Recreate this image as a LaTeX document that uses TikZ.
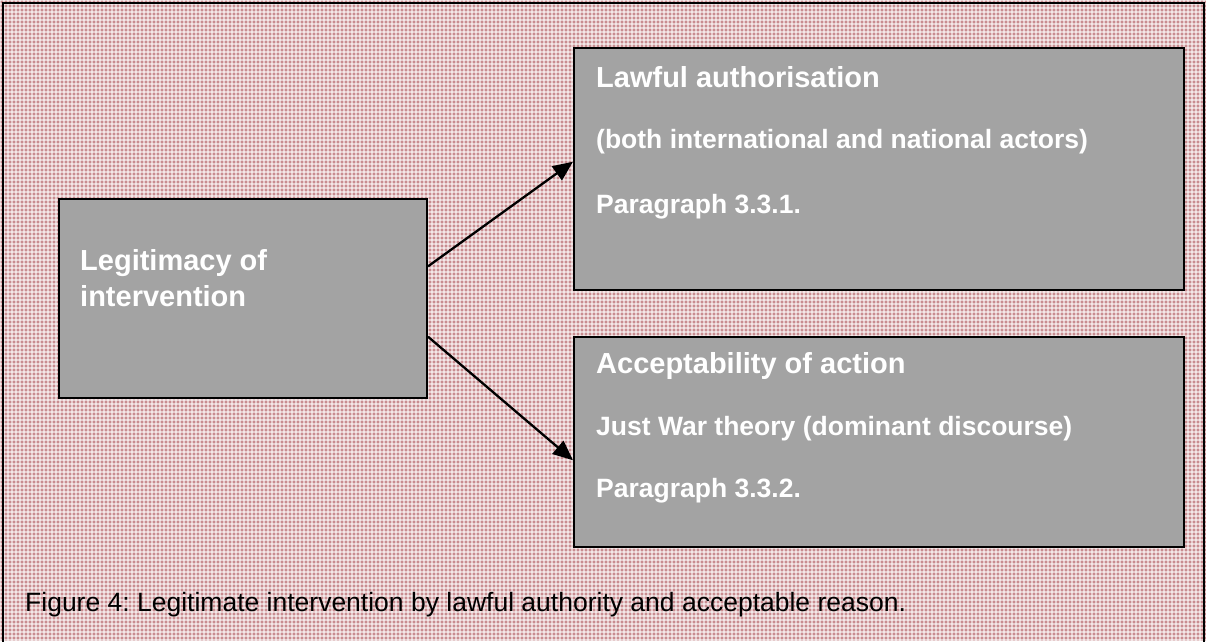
\documentclass[tikz,border=0pt]{standalone}
\usepackage{fontspec}
\setmainfont{Liberation Sans}
\usetikzlibrary{arrows.meta,calc}
\definecolor{bgpink}{RGB}{200,140,144}
\definecolor{boxgray}{RGB}{163,163,163}
\tikzset{
  panel/.style={draw=black, line width=2pt, fill=boxgray, inner sep=0pt, rectangle},
  boxtitle/.style={anchor=base west, inner sep=0pt, text=white, font=\bfseries\fontsize{29}{35}\selectfont},
  boxline/.style={anchor=base west, inner sep=0pt, text=white, font=\bfseries\fontsize{26.5}{32}\selectfont},
  captext/.style={anchor=base west, inner sep=0pt, text=black, font=\fontsize{26.5}{32}\selectfont},
  link/.style={draw=black, line width=2.3pt, -{Triangle[length=20pt,width=17pt]}},
  plaid/.style={draw=white, line width=1.2pt, opacity=0.55}
}
\frenchspacing
\begin{document}
\begin{tikzpicture}[x=1pt,y=-1pt]
\useasboundingbox (0,0) rectangle (1206,641);
\fill[bgpink] (0,0) rectangle (1206,641);
\foreach \gx in {0,4,...,1206} {\draw[plaid] (\gx,0) -- (\gx,641);}
\foreach \gy in {0,4,...,641} {\draw[plaid] (0,\gy) -- (1206,\gy);}
\draw[line width=2pt] (3,646) -- (3,3) -- (1204,3) -- (1204,646);
% boxes
\node[panel, minimum width=368pt, minimum height=199pt] (L) at (243,298.5) {};
\node[panel, minimum width=610pt, minimum height=242pt] (A) at (879,169) {};
\node[panel, minimum width=610pt, minimum height=210pt] (B) at (879,442) {};
% texts
\node[boxtitle] (l1) at (80,270) {Legitimacy of};
\node[boxtitle] (l2) at (80,306) {intervention};
\node[boxtitle] (a1) at (596,87) {Lawful authorisation};
\node[boxline] (a2) at (596,148) {(both international and national actors)};
\node[boxline] (a3) at (596,213) {Paragraph 3.3.1.};
\node[boxtitle] (b1) at (596,373) {Acceptability of action};
\node[boxline] (b2) at (596,435) {Just War theory (dominant discourse)};
\node[boxline] (b3) at (596,497) {Paragraph 3.3.2.};
\node[captext] (cap) at (25,611) {Figure 4: Legitimate intervention by lawful authority and acceptable reason.};
% connectors
\coordinate (s1) at ($(L.north east)!0.34!(L.south east)$);
\coordinate (s2) at ($(L.north east)!0.69!(L.south east)$);
\coordinate (t1) at ($(A.north west)!0.47!(A.south west)$);
\coordinate (t2) at ($(B.north west)!0.586!(B.south west)$);
\draw[link] (s1) -- (t1);
\draw[link] (s2) -- (t2);
\end{tikzpicture}
\end{document}
